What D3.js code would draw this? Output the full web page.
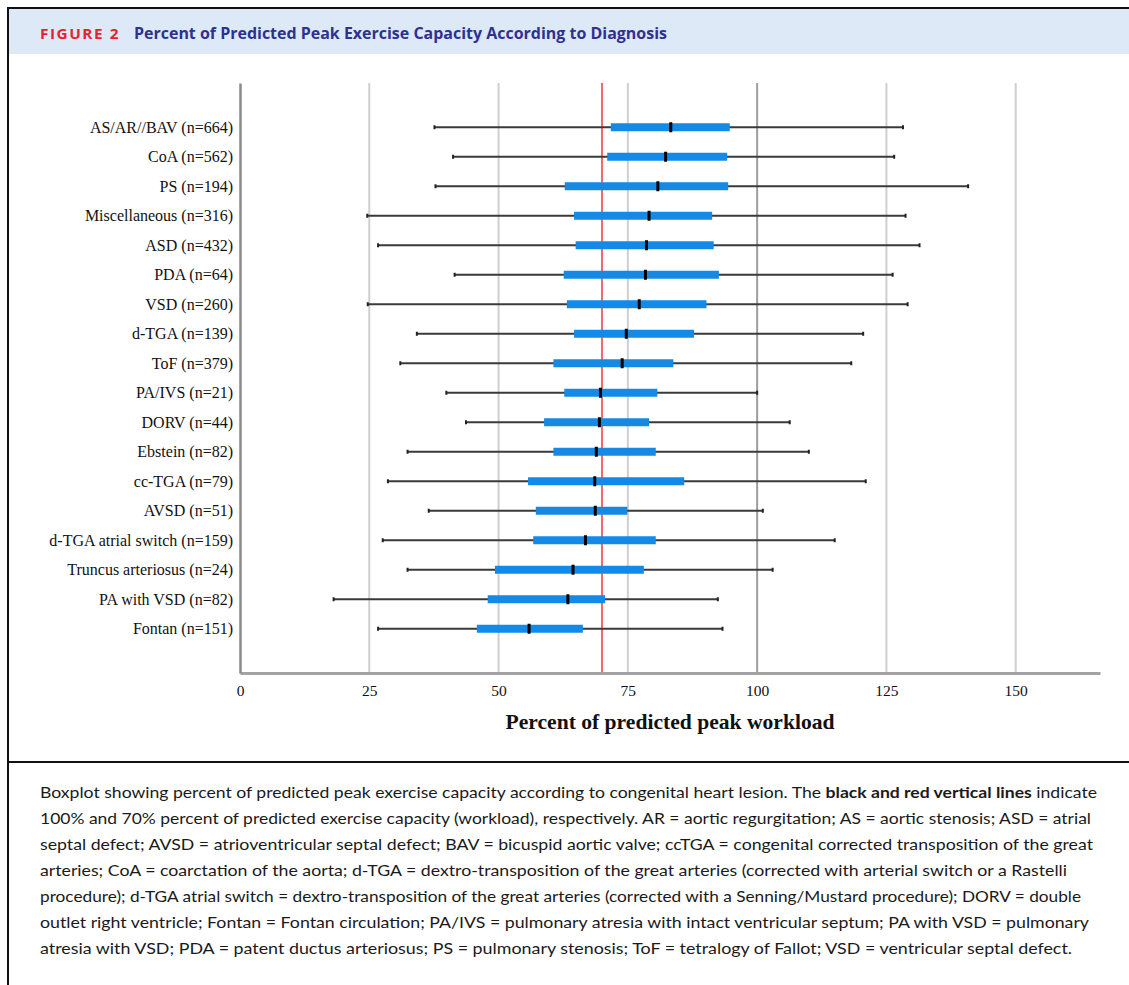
<!DOCTYPE html>
<html>
<head>
<meta charset="utf-8">
<script src="https://cdn.jsdelivr.net/npm/d3@7"></script>
<style>
	body { margin: 0; background: #fff; }
	svg { display: block; }
</style>
</head>
<body>
<div id="figure"></div>
<script>

// diagnosis groups, top to bottom
var categories = ["AS/AR//BAV (n=664)", "CoA (n=562)", "PS (n=194)", "Miscellaneous (n=316)", "ASD (n=432)",
	"PDA (n=64)", "VSD (n=260)", "d-TGA (n=139)", "ToF (n=379)", "PA/IVS (n=21)", "DORV (n=44)",
	"Ebstein (n=82)", "cc-TGA (n=79)", "AVSD (n=51)", "d-TGA atrial switch (n=159)",
	"Truncus arteriosus (n=24)", "PA with VSD (n=82)", "Fontan (n=151)"];

// percent of predicted peak workload
var whiskerLow  = [37.6, 41.2, 37.8, 24.6, 26.7, 41.5, 24.7, 34.2, 31.0, 39.9, 43.7, 32.4, 28.6, 36.5, 27.6, 32.4, 18.1, 26.7];
var q1          = [71.7, 71.0, 62.8, 64.6, 64.9, 62.6, 63.2, 64.6, 60.6, 62.7, 58.8, 60.6, 55.7, 57.2, 56.7, 49.3, 47.9, 45.8];
var medians     = [83.3, 82.3, 80.8, 79.1, 78.6, 78.4, 77.2, 74.7, 73.9, 69.7, 69.5, 68.9, 68.6, 68.7, 66.8, 64.4, 63.4, 55.9];
var q3          = [94.7, 94.2, 94.4, 91.3, 91.6, 92.6, 90.2, 87.8, 83.8, 80.7, 79.1, 80.4, 85.9, 74.9, 80.4, 78.1, 70.6, 66.3];
var whiskerHigh = [128.2, 126.5, 140.8, 128.7, 131.4, 126.2, 129.1, 120.5, 118.2, 100.0, 106.3, 110.0, 121.0, 101.1, 115.0, 103.0, 92.4, 93.3];

var tickValues = [0, 25, 50, 75, 100, 125, 150];
var refHundred = 100, refSeventy = 70;

var figureLabel = "FIGURE 2";
var figureTitle = "Percent of Predicted Peak Exercise Capacity According to Diagnosis";
var axisTitle = "Percent of predicted peak workload";

// caption lines, each a list of [text, bold]
var captionLines = [
	[["Boxplot showing percent of predicted peak exercise capacity according to congenital heart lesion. The ", false], ["black and red vertical lines", true], [" indicate", false]],
	[["100% and 70% percent of predicted exercise capacity (workload), respectively. AR = aortic regurgitation; AS = aortic stenosis; ASD = atrial", false]],
	[["septal defect; AVSD = atrioventricular septal defect; BAV = bicuspid aortic valve; ccTGA = congenital corrected transposition of the great", false]],
	[["arteries; CoA = coarctation of the aorta; d-TGA = dextro-transposition of the great arteries (corrected with arterial switch or a Rastelli", false]],
	[["procedure); d-TGA atrial switch = dextro-transposition of the great arteries (corrected with a Senning/Mustard procedure); DORV = double", false]],
	[["outlet right ventricle; Fontan = Fontan circulation; PA/IVS = pulmonary atresia with intact ventricular septum; PA with VSD = pulmonary", false]],
	[["atresia with VSD; PDA = patent ductus arteriosus; PS = pulmonary stenosis; ToF = tetralogy of Fallot; VSD = ventricular septal defect.", false]]
];
var captionWidths = [1057, 1051, 1053, 1027, 1041, 1049, 1032];


var width = 1129, height = 985,
	plot = {left: 240, right: 1100, top: 83, bottom: 673};

var svg = d3.select("#figure")
	.append("svg")
	.attr("width", width)
	.attr("height", height);

/*
 * Frame and header
 */
svg.append("rect")
	.attr("x", 9).attr("y", 9)
	.attr("width", width - 9).attr("height", 45)
	.attr("fill", "#dde9f6");

svg.append("line")
	.attr("x1", 8).attr("x2", width).attr("y1", 8).attr("y2", 8)
	.attr("stroke", "#111").attr("stroke-width", 2);

svg.append("line")
	.attr("x1", 8).attr("x2", 8).attr("y1", 7).attr("y2", height)
	.attr("stroke", "#111").attr("stroke-width", 2);

svg.append("line")
	.attr("x1", 8).attr("x2", width).attr("y1", 762).attr("y2", 762)
	.attr("stroke", "#111").attr("stroke-width", 2);

svg.append("text")
	.attr("x", 40).attr("y", 39)
	.attr("textLength", 80).attr("lengthAdjust", "spacingAndGlyphs")
	.style("font", "bold 15px 'Open Sans', sans-serif")
	.style("letter-spacing", "1.5px")
	.attr("fill", "#e8212f")
	.text(figureLabel);

svg.append("text")
	.attr("x", 134).attr("y", 39)
	.attr("textLength", 533).attr("lengthAdjust", "spacingAndGlyphs")
	.style("font", "bold 16px 'Open Sans', sans-serif")
	.attr("fill", "#2e3192")
	.text(figureTitle);

/*
 * Scales
 */
var x = d3.scaleLinear().domain([0, 166.3]).range([plot.left, plot.right]);
var y = d3.scalePoint().domain(categories).range([plot.top, plot.bottom]).padding(1.5);

var chart = svg.append("g");

// vertical grid lines
chart.selectAll(".grid")
	.data(tickValues.filter(function(d) { return d > 0; }))
	.enter().append("line")
		.attr("class", "grid")
		.attr("x1", function(d) { return x(d); })
		.attr("x2", function(d) { return x(d); })
		.attr("y1", plot.top).attr("y2", plot.bottom)
		.attr("stroke", function(d) { return d === refHundred ? "#9d9d9d" : "#cfcfcf"; })
		.attr("stroke-width", 2);

// 70% reference line
chart.append("line")
	.attr("x1", x(refSeventy)).attr("x2", x(refSeventy))
	.attr("y1", plot.top).attr("y2", plot.bottom)
	.attr("stroke", "#f26b6b").attr("stroke-width", 2);

/*
 * Boxes
 */
var rows = categories.map(function(c, i) {
	return {cat: c, lo: whiskerLow[i], q1: q1[i], med: medians[i], q3: q3[i], hi: whiskerHigh[i]};
});

var row = chart.selectAll(".row")
	.data(rows)
	.enter().append("g")
		.attr("class", "row")
		.attr("transform", function(d) { return "translate(0," + y(d.cat) + ")"; });

row.append("line")
	.attr("x1", function(d) { return x(d.lo); })
	.attr("x2", function(d) { return x(d.hi); })
	.attr("stroke", "#3a3a3a").attr("stroke-width", 2);

row.append("line")
	.attr("x1", function(d) { return x(d.lo); })
	.attr("x2", function(d) { return x(d.lo); })
	.attr("y1", -2).attr("y2", 2)
	.attr("stroke", "#222").attr("stroke-width", 2);

row.append("line")
	.attr("x1", function(d) { return x(d.hi); })
	.attr("x2", function(d) { return x(d.hi); })
	.attr("y1", -2).attr("y2", 2)
	.attr("stroke", "#222").attr("stroke-width", 2);

row.append("rect")
	.attr("x", function(d) { return x(d.q1); })
	.attr("width", function(d) { return x(d.q3) - x(d.q1); })
	.attr("y", -4).attr("height", 8)
	.attr("fill", "#148ae6");

row.append("rect")
	.attr("x", function(d) { return x(d.med) - 1.5; })
	.attr("width", 3)
	.attr("y", -5).attr("height", 10)
	.attr("fill", "#000");

/*
 * Axes
 */
var xAxis = svg.append("g")
	.attr("transform", "translate(0," + plot.bottom + ")")
	.call(d3.axisBottom(x).tickValues(tickValues).tickSize(0).tickPadding(12));

xAxis.select(".domain").attr("stroke", "#a3a3a3").attr("stroke-width", 3);
xAxis.selectAll("text")
	.style("font", "15.5px 'Liberation Serif', serif")
	.attr("fill", "#111");

var yAxis = svg.append("g")
	.attr("transform", "translate(" + plot.left + ",0)")
	.call(d3.axisLeft(y).tickSize(0).tickPadding(7));

yAxis.select(".domain").attr("stroke", "#8a8a8a").attr("stroke-width", 2.5);
yAxis.selectAll("text")
	.style("font", "16px 'Liberation Serif', serif")
	.attr("fill", "#111");

svg.append("text")
	.attr("x", (plot.left + plot.right) / 2).attr("y", 729)
	.attr("text-anchor", "middle")
	.attr("textLength", 329).attr("lengthAdjust", "spacingAndGlyphs")
	.style("font", "bold 21px 'Liberation Serif', serif")
	.attr("fill", "#111")
	.text(axisTitle);

/*
 * Caption
 */
var caption = svg.append("g");

captionLines.forEach(function(parts, i) {
	var t = caption.append("text")
		.attr("x", 40).attr("y", 798 + i * 26)
		.attr("textLength", captionWidths[i]).attr("lengthAdjust", "spacingAndGlyphs")
		.style("font", "15px Lato, sans-serif")
		.attr("fill", "#1a1a1a");

	t.selectAll("tspan")
		.data(parts)
		.enter().append("tspan")
			.style("font-weight", function(d) { return d[1] ? "bold" : "normal"; })
			.text(function(d) { return d[0]; });
});

</script>
</body>
</html>
